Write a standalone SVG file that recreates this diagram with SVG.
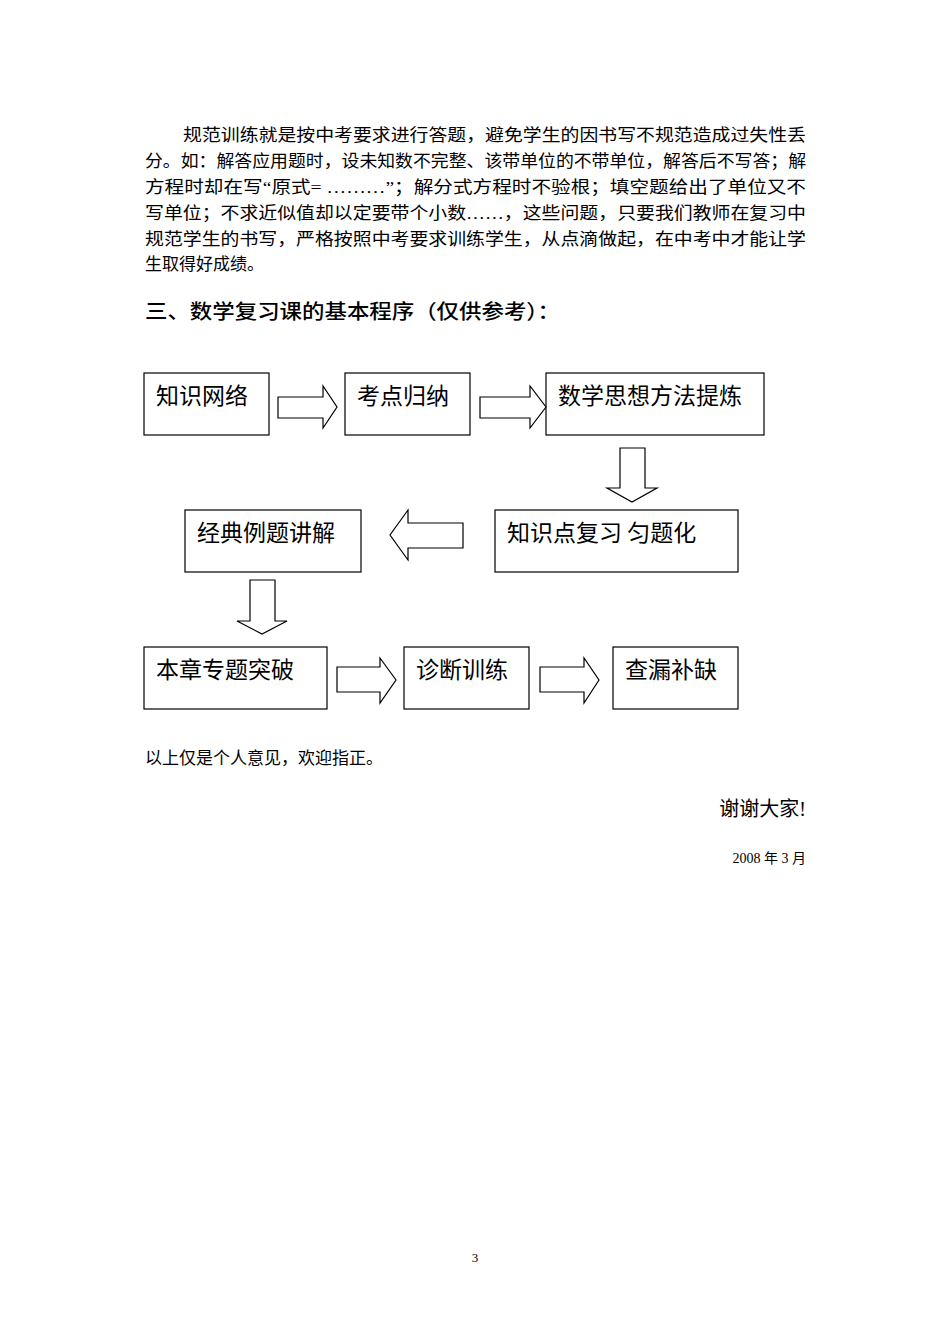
<svg xmlns="http://www.w3.org/2000/svg" width="950" height="1344" viewBox="0 0 950 1344">
<style>
.p{font-family:"Liberation Serif","Noto Sans CJK SC",serif;font-size:17px;fill:#000}
.n{font-family:"Noto Sans CJK SC",sans-serif;font-size:23px;fill:#000}
rect{fill:#fff;stroke:#000;stroke-width:1.2}
polygon{fill:#fff;stroke:#000;stroke-width:1.2}
</style>
<rect x="0" y="0" width="950" height="1344" style="stroke:none"/>
<g class="p">
<text x="183" y="141" textLength="623" lengthAdjust="spacingAndGlyphs">规范训练就是按中考要求进行答题，避免学生的因书写不规范造成过失性丢</text>
<text x="145" y="167" textLength="661" lengthAdjust="spacingAndGlyphs">分。如：解答应用题时，设未知数不完整、该带单位的不带单位，解答后不写答；解</text>
<text x="145" y="193" textLength="661" lengthAdjust="spacingAndGlyphs">方程时却在写“原式= ………”；解分式方程时不验根；填空题给出了单位又不</text>
<text x="145" y="219" textLength="661" lengthAdjust="spacingAndGlyphs">写单位；不求近似值却以定要带个小数……，这些问题，只要我们教师在复习中</text>
<text x="145" y="245" textLength="661" lengthAdjust="spacingAndGlyphs">规范学生的书写，严格按照中考要求训练学生，从点滴做起，在中考中才能让学</text>
<text x="145" y="270">生取得好成绩。</text>
<text x="145" y="319" font-weight="500" font-size="20" textLength="415" lengthAdjust="spacingAndGlyphs" style="font-family:'Noto Sans CJK SC',sans-serif">三、数学复习课的基本程序（仅供参考）：</text>
<text x="145" y="764">以上仅是个人意见，欢迎指正。</text>
<text x="806" y="816" text-anchor="end" font-size="20">谢谢大家!</text>
<text x="806" y="863" text-anchor="end" font-size="14">2008 年 3 月</text>
<text x="475" y="1262" text-anchor="middle" font-size="13">3</text>
</g>
<g id="n1"><rect x="144" y="373" width="125" height="62"/><text class="n" x="156" y="404">知识网络</text></g>
<g id="n2"><rect x="345" y="373" width="125" height="62"/><text class="n" x="357" y="404">考点归纳</text></g>
<g id="n3"><rect x="546" y="373" width="218" height="62"/><text class="n" x="558" y="404">数学思想方法提炼</text></g>
<g id="n4"><rect x="495" y="510" width="243" height="62"/><text class="n" x="507" y="541">知识点复习 匀题化</text></g>
<g id="n5"><rect x="185" y="510" width="176" height="62"/><text class="n" x="197" y="541">经典例题讲解</text></g>
<g id="n6"><rect x="144" y="647" width="183" height="62"/><text class="n" x="156" y="678">本章专题突破</text></g>
<g id="n7"><rect x="404" y="647" width="125" height="62"/><text class="n" x="416" y="678">诊断训练</text></g>
<g id="n8"><rect x="613" y="647" width="125" height="62"/><text class="n" x="625" y="678">查漏补缺</text></g>
<g id="connectors">
<polygon points="278,397 323,397 323,386 337,407 323,428 323,418 278,418"/>
<polygon points="480,397 530,397 530,386 546,407 530,428 530,418 480,418"/>
<polygon points="620,448 645,448 645,488 657,488 632,502 607,488 620,488"/>
<polygon points="463,523 408,523 408,510 390,535 408,560 408,548 463,548"/>
<polygon points="250,580 275,580 275,621 287,621 262,634 237,621 250,621"/>
<polygon points="337,667 380,667 380,658 396,680 380,703 380,692 337,692"/>
<polygon points="540,667 584,667 584,658 599,680 584,703 584,692 540,692"/>
</g>
</svg>
